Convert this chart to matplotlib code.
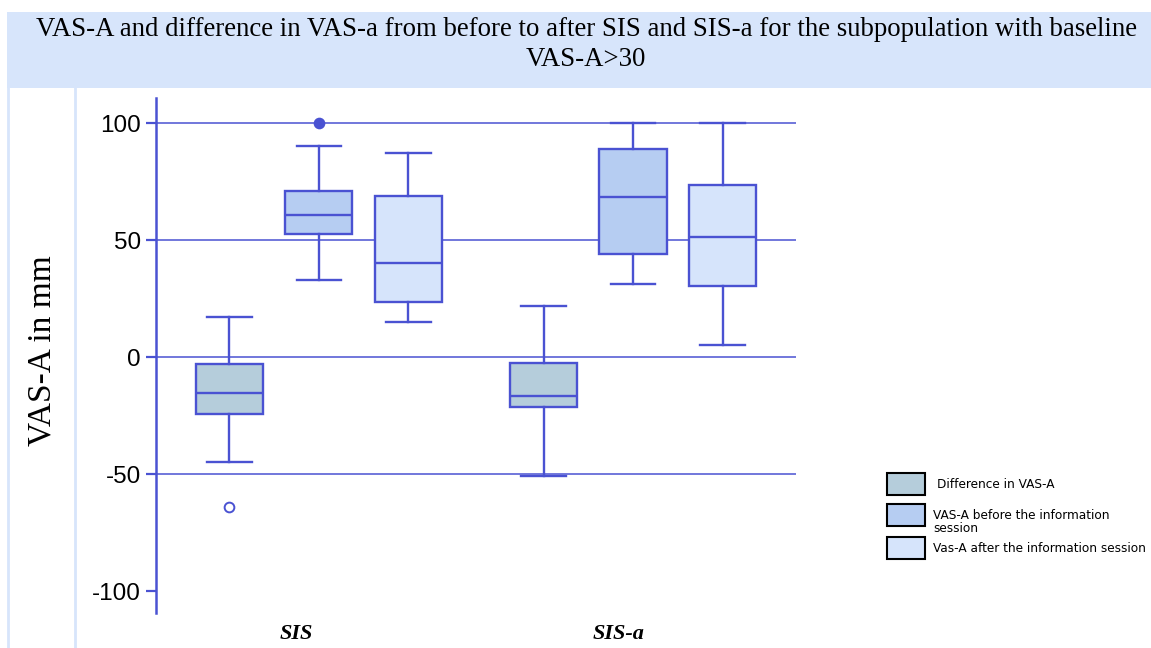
import matplotlib
matplotlib.use("Agg")
import matplotlib.pyplot as plt
from matplotlib.patches import Rectangle
from matplotlib.lines import Line2D

plt.rcParams["axes.unicode_minus"] = False

# data (mm)
groups = ["SIS", "SIS-a"]
series = ["Difference in VAS-A", "VAS-A before the information\nsession", "Vas-A after the information session"]

diff_low = [-45, -51]
diff_q1 = [-24.5, -21.5]
diff_med = [-15.5, -16.5]
diff_q3 = [-3, -2.7]
diff_high = [17, 22]
diff_out = [[-64], []]

before_low = [33, 31]
before_q1 = [52.5, 44]
before_med = [60.5, 68.5]
before_q3 = [71, 89]
before_high = [90, 100]
before_out = [[100], []]

after_low = [15, 5]
after_q1 = [23.5, 30.5]
after_med = [40, 51.5]
after_q3 = [69, 73.5]
after_high = [87, 100]
after_out = [[], []]

W, H = 1151, 648
LINE = "#4a52d2"
fills = ["#b5cddb", "#b6cdf2", "#d6e4fb"]
flier_filled = [False, True, False]
BAND = "#d7e5fb"

all_stats = [
    (diff_low, diff_q1, diff_med, diff_q3, diff_high, diff_out),
    (before_low, before_q1, before_med, before_q3, before_high, before_out),
    (after_low, after_q1, after_med, after_q3, after_high, after_out),
]

fig = plt.figure(figsize=(W / 100, H / 100), dpi=100)

# title band and faint frame lines
fig.patches.append(Rectangle((7 / W, 1 - 88 / H), 1 - 7 / W, 76 / H,
                             transform=fig.transFigure, facecolor=BAND, edgecolor="none", zorder=0))
for xp in (8, 75):
    fig.add_artist(Line2D([xp / W, xp / W], [0, 1 - 88 / H], color=BAND, lw=2, transform=fig.transFigure))

title_x = 586 / W
fig.text(title_x, 1 - 29 / H, "VAS-A and difference in VAS-a from before to after SIS and SIS-a for the subpopulation with baseline",
         ha="center", va="center", fontsize=19.3, family="Liberation Serif")
fig.text(title_x, 1 - 60 / H, "VAS-A>30", ha="center", va="center", fontsize=19.3, family="Liberation Serif")

ax = fig.add_axes([156 / W, (H - 613) / H, 640 / W, 515 / H])
ax.set_ylim(-109.4, 110.7)
ax.set_xlim(0, 640 / 89.5)

for yv in (100, 50, 0, -50):
    ax.axhline(yv, color=LINE, lw=1.1, zorder=0)

centers = [1.82, 5.33]
offsets = [-1.0, 0.0, 1.0]
for s, (lo, q1, med, q3, hi, out) in enumerate(all_stats):
    for g in range(len(groups)):
        st = [{"whislo": lo[g], "q1": q1[g], "med": med[g], "q3": q3[g], "whishi": hi[g], "fliers": out[g]}]
        ax.bxp(st, positions=[centers[g] + offsets[s]], widths=0.75, patch_artist=True,
               showfliers=True, manage_ticks=False,
               boxprops=dict(facecolor=fills[s], edgecolor=LINE, linewidth=1.7),
               medianprops=dict(color=LINE, linewidth=1.7),
               whiskerprops=dict(color=LINE, linewidth=1.7),
               capprops=dict(color=LINE, linewidth=1.7),
               capwidths=0.5,
               flierprops=dict(marker="o", markersize=7, markeredgecolor=LINE, markeredgewidth=1.4,
                               markerfacecolor=LINE if flier_filled[s] else "white"))

for sp in ("top", "right", "bottom"):
    ax.spines[sp].set_visible(False)
ax.spines["left"].set_color(LINE)
ax.spines["left"].set_linewidth(1.8)
ax.set_yticks([100, 50, 0, -50, -100])
ax.tick_params(axis="y", colors=LINE, labelcolor="black", length=7, width=1.6, pad=4, labelsize=17.5)
for lab in ax.get_yticklabels():
    lab.set_family("Liberation Sans")
ax.set_xticks([1.57, 5.17])
ax.set_xticklabels(groups, fontsize=16, family="Liberation Serif", fontweight="bold", fontstyle="italic")
ax.tick_params(axis="x", length=0, pad=8)

fig.text(42 / W, 1 - 351 / H, "VAS-A in mm", rotation=90, ha="center", va="center",
         fontsize=24, family="Liberation Serif")

# legend
leg_y = [484, 515, 548]
leg_text_x = [937, 933, 933]
for i, name in enumerate(series):
    fig.patches.append(Rectangle((887 / W, 1 - (leg_y[i] + 11) / H), 38 / W, 22 / H,
                                 transform=fig.transFigure, facecolor=fills[i], edgecolor="black", lw=1.5))
    fig.text(leg_text_x[i] / W, 1 - (leg_y[i] + (1 if i != 1 else 7)) / H, name, ha="left", va="center",
             fontsize=8.7, family="DejaVu Sans", linespacing=0.95)

fig.savefig("out.png", dpi=100)
